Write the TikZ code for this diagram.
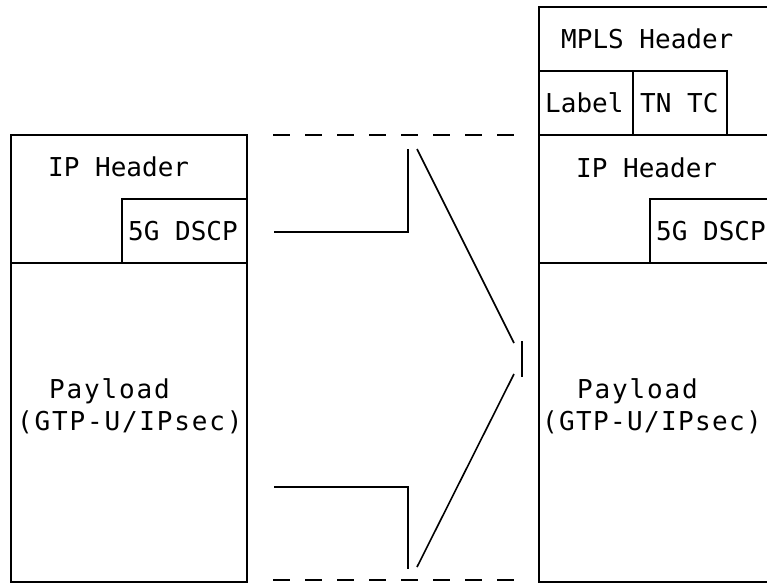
\documentclass[tikz,border=0pt]{standalone}
\usepackage{fontspec}
\newfontfamily\monofnt{DejaVu Sans Mono}
\newfontfamily\monowide[LetterSpace=7.0]{DejaVu Sans Mono}
\newfontfamily\monomid[LetterSpace=5.2]{DejaVu Sans Mono}
\begin{document}
\begin{tikzpicture}[x=1pt,y=-1pt,
  ln/.style={line width=1.6pt, line cap=butt},
  dsh/.style={line width=1.6pt, dash pattern=on 17pt off 15pt},
  txt/.style={font=\monofnt\fontsize{26}{30}\selectfont, inner sep=0pt, anchor=base west},
  wtxt/.style={font=\monowide\fontsize{26}{30}\selectfont, inner sep=0pt, anchor=base west},
  mtxt/.style={font=\monomid\fontsize{26}{30}\selectfont, inner sep=0pt, anchor=base west}]
\useasboundingbox (0,0) rectangle (767,583);
% ---- left packet ----
\coordinate (LTL) at (11,135);
\coordinate (LTR) at (247,135);
\coordinate (LBR) at (247,582);
\coordinate (LBL) at (11,582);
\coordinate (LDL) at (11,263);
\coordinate (LDR) at (247,263);
\coordinate (LQB) at (122,263);
\coordinate (LQT) at (122,199);
\coordinate (LQR) at (247,199);
\draw[ln] (LTL) -- (LTR) -- (LBR) -- (LBL) -- cycle;
\draw[ln] (LDL) -- (LDR);
\draw[ln] (LQB) -- (LQT) -- (LQR);
\node[txt] (lip) at (48,176) {IP Header};
\node[txt] (ldscp) at (128,240) {5G DSCP};
\node[wtxt] (lpay) at (49,398) {Payload};
\node[wtxt] (lgtp) at (17,430) {(GTP-U/IPsec)};
% ---- right packet ----
\coordinate (RTL) at (539,7);
\coordinate (RTR) at (767,7);
\coordinate (RML) at (539,71);
\coordinate (RMR) at (727,71);
\coordinate (RSa) at (633,71);
\coordinate (RSb) at (633,135);
\coordinate (RTb) at (727,135);
\coordinate (RIL) at (539,135);
\coordinate (RIR) at (767,135);
\coordinate (RQB) at (650,263);
\coordinate (RQT) at (650,199);
\coordinate (RQR) at (767,199);
\coordinate (RDL) at (539,263);
\coordinate (RDR) at (767,263);
\coordinate (RBL) at (539,582);
\coordinate (RBR) at (767,582);
\draw[ln] (RTR) -- (RTL) -- (RBL) -- (RBR);
\draw[ln] (RML) -- (RMR) -- (RTb);
\draw[ln] (RSa) -- (RSb);
\draw[ln] (RIL) -- (RIR);
\draw[ln] (RQB) -- (RQT) -- (RQR);
\draw[ln] (RDL) -- (RDR);
\node[txt] (rmpls) at (561,49) {MPLS Header};
\node[txt] (rlabel) at (545,112) {Label};
\node[txt] (rtc) at (640,112) {TN TC};
\node[txt] (rip) at (576,177) {IP Header};
\node[txt] (rdscp) at (656,240) {5G DSCP};
\node[wtxt] (rpay) at (577,398) {Payload};
\node[mtxt] (rgtp) at (542,430) {(GTP-U/IPsec)};
% ---- arrow ----
\coordinate (A1) at (274,232);
\coordinate (A2) at (408,232);
\coordinate (A3) at (408,149);
\coordinate (A4) at (417,149);
\coordinate (A5) at (514,343);
\coordinate (A6) at (522,341);
\coordinate (A7) at (522,377);
\coordinate (A8) at (514,374);
\coordinate (A9) at (417,567);
\coordinate (B1) at (274,487);
\coordinate (B2) at (408,487);
\coordinate (B3) at (408,569);
\draw[ln] (A1) -- (A2) -- (A3);
\draw[ln] (A4) -- (A5);
\draw[ln] (A6) -- (A7);
\draw[ln] (A8) -- (A9);
\draw[ln] (B1) -- (B2) -- (B3);
\coordinate (D1) at (273,135);
\coordinate (D2) at (515,135);
\coordinate (D3) at (273,580);
\coordinate (D4) at (515,580);
\draw[dsh] (D1) -- (D2);
\draw[dsh] (D3) -- (D4);
\end{tikzpicture}
\end{document}
